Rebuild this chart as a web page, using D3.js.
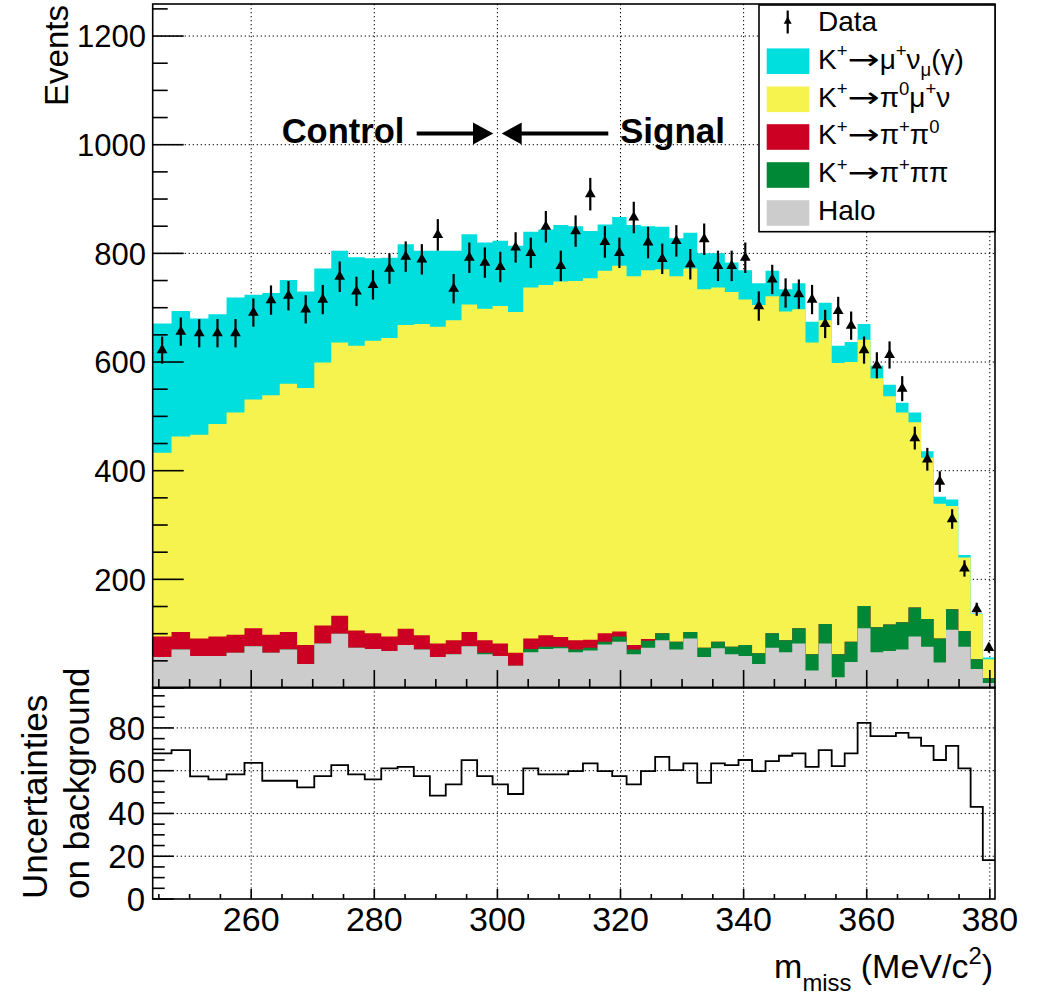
<!DOCTYPE html>
<html>
<head>
<meta charset="utf-8">
<script src="https://cdn.jsdelivr.net/npm/d3@7"></script>
<style>
  body { margin: 0; background: #fff; }
  svg text { font-family: "Liberation Sans", Arial, Helvetica, sans-serif; fill: #000; }
</style>
</head>
<body>
<div id="chart"></div>
<script>
// bin edges in m_miss (MeV/c^2)
const binEdges = [244.00, 247.06, 250.07, 253.05, 256.00, 258.91, 261.80, 264.64, 267.46, 270.25,
  273.01, 275.75, 278.45, 281.13, 283.79, 286.42, 289.03, 291.61, 294.17, 296.71,
  299.22, 301.72, 304.20, 306.65, 309.09, 311.51, 313.90, 316.28, 318.65, 320.99,
  323.32, 325.63, 327.93, 330.21, 332.47, 334.72, 336.95, 339.17, 341.37, 343.56,
  345.74, 347.90, 350.05, 352.19, 354.31, 356.42, 358.52, 360.61, 362.68, 364.74,
  366.79, 368.83, 370.86, 372.88, 374.88, 376.88, 378.86, 380.84];

// stacked backgrounds (events per bin)
const halo = [57, 71, 59, 59, 65, 77, 65, 71, 44, 82, 100, 74, 72, 68, 79, 71, 57, 62, 77, 62,
  59, 41, 66, 72, 73, 66, 69, 80, 85, 62, 74, 88, 71, 91, 57, 73, 62, 59, 44, 74,
  66, 82, 32, 82, 20, 48, 110, 66, 68, 71, 95, 76, 47, 107, 76, 35, 9];
const kPiPiPi = [0, 0, 0, 0, 0, 0, 0, 0, 0, 0, 0, 0, 0, 0, 0, 0, 0, 0, 0, 3,
  0, 0, 6, 4, 3, 5, 5, 5, 10, 9, 13, 13, 14, 12, 17, 12, 14, 20, 20, 27,
  22, 28, 30, 36, 42, 37, 41, 46, 49, 50, 53, 51, 44, 38, 29, 18, 9];
const kPiPi0 = [38, 32, 32, 36, 33, 33, 33, 32, 35, 33, 33, 32, 29, 27, 30, 26, 25, 26, 26, 23,
  23, 24, 19, 21, 18, 17, 15, 16, 9, 8, 3, 0, 0, 0, 0, 0, 0, 0, 0, 0,
  0, 0, 0, 0, 0, 0, 0, 0, 0, 0, 0, 0, 0, 0, 0, 0, 0];
const kPi0MuNu = [338, 360, 375, 391, 409, 421, 441, 457, 473, 484, 503, 524, 538, 549, 559, 573, 583, 589, 603, 610,
  621, 627, 646, 645, 654, 661, 665, 667, 673, 679, 679, 670, 673, 669, 660, 652, 653, 636, 641, 620,
  605, 587, 574, 559, 536, 515, 490, 458, 420, 386, 341, 297, 248, 190, 135, 83, 35];
const kMuNu = [238, 231, 214, 202, 212, 193, 188, 191, 178, 173, 169, 163, 152, 148, 149, 135, 140, 128, 129, 122,
  120, 122, 103, 102, 104, 101, 87, 85, 90, 94, 81, 78, 70, 66, 66, 63, 54, 54, 40, 47,
  41, 48, 38, 32, 32, 37, 29, 23, 21, 18, 18, 12, 13, 12, 5, 1, 3];

// data and its error bars
const dataCounts = [622, 656, 653, 653, 653, 691, 714, 722, 697, 715, 757, 730, 742, 772, 794, 789, 834, 735, 792, 783,
  775, 811, 801, 849, 777, 841, 909, 821, 801, 866, 820, 790, 823, 780, 826, 777, 777, 792, 703, 752,
  727, 725, 715, 670, 694, 667, 622, 594, 613, 551, 460, 421, 380, 311, 220, 145, 74];
const dataErrors = [25, 26, 26, 26, 26, 26, 27, 27, 26, 27, 28, 27, 27, 28, 28, 28, 29, 27, 28, 28,
  28, 28, 28, 29, 28, 29, 30, 29, 28, 29, 29, 28, 29, 28, 29, 28, 28, 28, 27, 27,
  27, 27, 27, 26, 26, 26, 25, 24, 25, 23, 21, 21, 19, 18, 15, 12, 9];

// lower pad: uncertainties on background
const bkgUncert = [68.1, 69.6, 57.3, 55.9, 58.3, 63.7, 55.3, 55.3, 52.2, 57.5, 62.6, 58.3, 55.9, 61.1, 61.8, 57.5, 48.3, 53.6, 64.9, 57.5,
  53.6, 49.1, 61.1, 58.3, 58.3, 59.8, 63.4, 59.8, 57.5, 53.6, 59.8, 66.5, 60.3, 63.4, 54.3, 63.4, 62.6, 65.0, 59.8, 64.5,
  67.0, 68.1, 61.8, 69.6, 62.1, 68.1, 82.4, 76.2, 76.2, 77.7, 75.5, 71.6, 65.0, 71.6, 61.1, 43.1, 18.2];

const xTicks = [260, 280, 300, 320, 340, 360, 380];
const yTicksTop = [200, 400, 600, 800, 1000, 1200];
const yTicksBot = [0, 20, 40, 60, 80];

const W = 1038, H = 995;
const svg = d3.select("#chart").append("svg").attr("width", W).attr("height", H);

const L = 152.7, R = 995;
const x = d3.scaleLinear().domain([244, 380.84]).range([L, R]);
const yTop = d3.scaleLinear().domain([0, 1259]).range([688, 4]);
const yBot = d3.scaleLinear().domain([0, 99]).range([899, 687.3]);

const dotted = g => g.attr("stroke", "#000").attr("stroke-width", 1).attr("stroke-dasharray", "1.3,2.7");

// grid
const grid = svg.append("g");
xTicks.forEach(t => {
  grid.append("line").attr("x1", x(t)).attr("x2", x(t)).attr("y1", yTop(1259)).attr("y2", yTop(0)).call(dotted);
  grid.append("line").attr("x1", x(t)).attr("x2", x(t)).attr("y1", yBot(99)).attr("y2", yBot(0)).call(dotted);
});
yTicksTop.forEach(t => grid.append("line").attr("x1", L).attr("x2", R).attr("y1", yTop(t)).attr("y2", yTop(t)).call(dotted));
yTicksBot.slice(1).forEach(t => grid.append("line").attr("x1", L).attr("x2", R).attr("y1", yBot(t)).attr("y2", yBot(t)).call(dotted));

// stacked histogram
const keys = ["halo", "pipipi", "pipi0", "pi0munu", "munu"];
const colors = { halo: "#cccccc", pipipi: "#008836", pipi0: "#cc0022", pi0munu: "#f6f24e", munu: "#00dede" };
const rows = dataCounts.map((_, i) => ({
  lo: binEdges[i], hi: binEdges[i + 1],
  halo: halo[i], pipipi: kPiPiPi[i], pipi0: kPiPi0[i], pi0munu: kPi0MuNu[i], munu: kMuNu[i]
}));
const series = d3.stack().keys(keys)(rows);
const area = d3.area().x(d => x(d.x)).y0(yTop(0)).y1(d => yTop(d.y));
const hist = svg.append("g");
// draw from the top layer down, each filled from zero, so no seams show between layers
series.slice().reverse().forEach(s => {
  const pts = [];
  s.forEach(d => { pts.push({ x: d.data.lo, y: d[1] }); pts.push({ x: d.data.hi, y: d[1] }); });
  hist.append("path").attr("d", area(pts)).attr("fill", colors[s.key]);
});

// lower pad step line
const stepPts = [];
bkgUncert.forEach((v, i) => { stepPts.push([binEdges[i], v]); stepPts.push([binEdges[i + 1], v]); });
svg.append("path")
  .attr("d", d3.line().x(d => x(d[0])).y(d => yBot(d[1]))(stepPts))
  .attr("fill", "none").attr("stroke", "#000").attr("stroke-width", 1.8);

// axes ticks
const ticks = svg.append("g").attr("stroke", "#000").attr("stroke-width", 1.6);
d3.range(0, 1259, 50).forEach(t => {
  const len = t % 200 === 0 ? 31 : 15;
  ticks.append("line").attr("x1", L).attr("x2", L + len).attr("y1", yTop(t)).attr("y2", yTop(t));
});
d3.range(0, 99, 5).forEach(t => {
  const len = t % 20 === 0 ? 21 : 12;
  ticks.append("line").attr("x1", L).attr("x2", L + len).attr("y1", yBot(t)).attr("y2", yBot(t));
});
d3.range(245, 381, 5).forEach(t => {
  const major = t % 20 === 0;
  ticks.append("line").attr("x1", x(t)).attr("x2", x(t)).attr("y1", yTop(0)).attr("y2", yTop(0) - (major ? 18 : 9));
  ticks.append("line").attr("x1", x(t)).attr("x2", x(t)).attr("y1", yBot(0)).attr("y2", yBot(0) - (major ? 10 : 5));
});

// frames
svg.append("rect").attr("x", L).attr("y", yTop(1259)).attr("width", R - L).attr("height", yTop(0) - yTop(1259))
  .attr("fill", "none").attr("stroke", "#000").attr("stroke-width", 1.6);
svg.append("rect").attr("x", L).attr("y", yBot(99)).attr("width", R - L).attr("height", yBot(0) - yBot(99))
  .attr("fill", "none").attr("stroke", "#000").attr("stroke-width", 1.6);

// tick labels
const labels = svg.append("g");
yTicksTop.forEach(t => labels.append("text").attr("x", 146).attr("y", yTop(t)).attr("dy", "0.36em")
  .attr("text-anchor", "end").attr("font-size", 31).text(t));
yTicksBot.forEach(t => labels.append("text").attr("x", 145).attr("y", yBot(t)).attr("dy", "0.36em")
  .attr("text-anchor", "end").attr("font-size", 33).text(t));
xTicks.forEach(t => labels.append("text").attr("x", x(t)).attr("y", 931)
  .attr("text-anchor", "middle").attr("font-size", 34).text(t));

// data points
const pts = svg.append("g");
dataCounts.forEach((v, i) => {
  const cx = x((binEdges[i] + binEdges[i + 1]) / 2);
  pts.append("line").attr("x1", cx).attr("x2", cx)
    .attr("y1", yTop(v - dataErrors[i])).attr("y2", yTop(v + dataErrors[i]))
    .attr("stroke", "#000").attr("stroke-width", 2.2);
  pts.append("path").attr("d", d3.symbol(d3.symbolTriangle, 50)())
    .attr("transform", `translate(${cx},${yTop(v)})`).attr("fill", "#000");
});

// rich text helper: parts are [text, "" | "sup" | "sub" | "arrow"]
function rich(sel, parts, size, supShift = 0.4, subShift = 0.28, small = 0.66) {
  let cur = 0;
  parts.forEach(([t, kind]) => {
    const target = kind === "sup" ? -size * supShift : kind === "sub" ? size * subShift : 0;
    const ts = sel.append("tspan").attr("dy", target - cur)
      .attr("font-size", kind === "sup" || kind === "sub" ? size * small : size).text(t);
    if (kind === "arrow") {
      ts.style("font-family", "'DejaVu Sans', sans-serif")
        .attr("textLength", size * 1.15).attr("lengthAdjust", "spacingAndGlyphs");
    }
    cur = target;
  });
}

// legend
const leg = svg.append("g");
leg.append("rect").attr("x", 759).attr("y", 5).attr("width", 236).attr("height", 226.7)
  .attr("fill", "#fff").attr("stroke", "#000").attr("stroke-width", 1.6);
leg.append("line").attr("x1", 787.7).attr("x2", 787.7).attr("y1", 10.5).attr("y2", 33.5)
  .attr("stroke", "#000").attr("stroke-width", 2.2);
leg.append("path").attr("d", d3.symbol(d3.symbolTriangle, 28)()).attr("transform", "translate(787.7,21.5)").attr("fill", "#000");
leg.append("text").attr("x", 818).attr("y", 30.7).attr("font-size", 28).text("Data");

const legendEntries = [
  { key: "munu", y: 61.2, parts: [["K", ""], ["+", "sup"], ["\u2192", "arrow"], ["\u03bc", ""], ["+", "sup"], ["\u03bd", ""], ["\u03bc", "sub"], ["(\u03b3)", ""]] },
  { key: "pi0munu", y: 99.3, parts: [["K", ""], ["+", "sup"], ["\u2192", "arrow"], ["\u03c0", ""], ["0", "sup"], ["\u03bc", ""], ["+", "sup"], ["\u03bd", ""]] },
  { key: "pipi0", y: 137, parts: [["K", ""], ["+", "sup"], ["\u2192", "arrow"], ["\u03c0", ""], ["+", "sup"], ["\u03c0", ""], ["0", "sup"]] },
  { key: "pipipi", y: 175, parts: [["K", ""], ["+", "sup"], ["\u2192", "arrow"], ["\u03c0", ""], ["+", "sup"], ["\u03c0\u03c0", ""]] },
  { key: "halo", y: 213, parts: [["Halo", ""]] }
];
legendEntries.forEach(e => {
  leg.append("rect").attr("x", 766.7).attr("y", e.y - 12.8).attr("width", 42.6).attr("height", 25.6).attr("fill", colors[e.key]);
  const t = leg.append("text").attr("x", 818).attr("y", e.y + 7.3).attr("font-size", 28);
  rich(t, e.parts, 28);
});

// Control / Signal annotation
svg.append("text").attr("x", 281.7).attr("y", 143.3).attr("font-size", 34.5).attr("font-weight", "bold").text("Control");
svg.append("text").attr("x", 620).attr("y", 143.3).attr("font-size", 35).attr("font-weight", "bold").text("Signal");
const arr = svg.append("g");
arr.append("line").attr("x1", 416.7).attr("x2", 476).attr("y1", 133.5).attr("y2", 133.5).attr("stroke", "#000").attr("stroke-width", 4);
arr.append("path").attr("d", "M473,122.5 L493.3,133.5 L473,144.5 Z").attr("fill", "#000");
arr.append("line").attr("x1", 519).attr("x2", 608.3).attr("y1", 133.5).attr("y2", 133.5).attr("stroke", "#000").attr("stroke-width", 4);
arr.append("path").attr("d", "M521.7,122.5 L501.7,133.5 L521.7,144.5 Z").attr("fill", "#000");

// axis titles
svg.append("text").attr("transform", "translate(68,5) rotate(-90)").attr("text-anchor", "end")
  .attr("font-size", 33).text("Events");
svg.append("text").attr("transform", "translate(46.5,899) rotate(-90)").attr("text-anchor", "start")
  .attr("font-size", 35).text("Uncertainties");
svg.append("text").attr("transform", "translate(88.5,899) rotate(-90)").attr("text-anchor", "start")
  .attr("font-size", 35).text("on background");
const xt = svg.append("text").attr("x", 993).attr("y", 978).attr("text-anchor", "end").attr("font-size", 34);
rich(xt, [["m", ""], ["miss", "sub"], [" (MeV/c", ""], ["2", "sup"], [")", ""]], 34, 0.42, 0.38, 0.7);
</script>
</body>
</html>
